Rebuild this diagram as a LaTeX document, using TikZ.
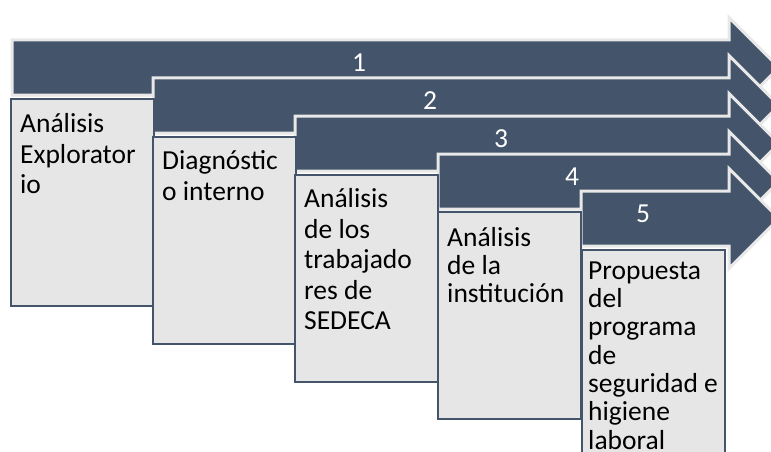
\documentclass[tikz,border=0pt]{standalone}
\usepackage{fontspec}
\setmainfont{Carlito}
\usetikzlibrary{positioning}
\definecolor{slate}{HTML}{44546A}
\definecolor{paper}{HTML}{E6E6E6}
\definecolor{rim}{HTML}{E8E8E8}
\newcommand{\topstrut}{\rule{0pt}{24pt}}
\begin{document}
\begin{tikzpicture}[x=1pt,y=-1pt,
  band/.style={fill=slate, draw=rim, line width=3pt, line join=miter},
  stepbox/.style={fill=paper, draw=slate, line width=2pt, inner sep=0pt, minimum width=143pt, minimum height=207pt, anchor=north west},
  steptext/.style={align=left, inner sep=0pt, font=\fontsize{27.5}{30.5}\selectfont},
  smalltext/.style={steptext, font=\fontsize{27.5}{28.3}\selectfont},
  stepnum/.style={text=white, inner sep=0pt, font=\fontsize{27.5}{30}\selectfont}]
\useasboundingbox (0,0) rectangle (771,452);
\clip (0,0) rectangle (771,452);
\draw [band] (12,40) -- (729,40) -- (729,17.5) -- (779,67.5) -- (729,117.5) -- (729,95) -- (12,95) -- cycle;
\draw [band] (153,78) -- (729,78) -- (729,55.5) -- (779,105.5) -- (729,155.5) -- (729,133) -- (153,133) -- cycle;
\draw [band] (295,116) -- (729,116) -- (729,93.5) -- (779,143.5) -- (729,193.5) -- (729,171) -- (295,171) -- cycle;
\draw [band] (438,154) -- (729,154) -- (729,131.5) -- (779,181.5) -- (729,231.5) -- (729,209) -- (438,209) -- cycle;
\draw [band] (581,191) -- (729,191) -- (729,168.5) -- (779,218.5) -- (729,268.5) -- (729,246) -- (581,246) -- cycle;
\node [stepbox] (b1) at (10,98) {};
\node [stepbox] (b2) at (152,136) {};
\node [stepbox] (b3) at (294,174) {};
\node [stepbox] (b4) at (437,211) {};
\node [stepbox] (b5) at (581,249) {};
\node [stepnum] (n1) at (359,63) {1};
\node [stepnum] (n2) at (430,101) {2};
\node [stepnum] (n3) at (501,139) {3};
\node [stepnum] (n4) at (572,177) {4};
\node [stepnum] (n5) at (643,214) {5};
\node [steptext, below right=10.7pt and 10pt of b1.north west] (t1) {\topstrut Análisis\\Explorator\\io};
\node [steptext, below right=9.3pt and 10pt of b2.north west] (t2) {\topstrut Diagnóstic\\o interno};
\node [steptext, below right=9.7pt and 10pt of b3.north west] (t3) {\topstrut Análisis\\de los\\trabajado\\res de\\SEDECA};
\node [smalltext, below right=11pt and 10pt of b4.north west] (t4) {\topstrut Análisis\\de la\\institución};
\node [smalltext, below right=6pt and 7pt of b5.north west] (t5) {\topstrut Propuesta\\del\\programa\\de\\seguridad e\\higiene\\laboral};
\end{tikzpicture}
\end{document}
